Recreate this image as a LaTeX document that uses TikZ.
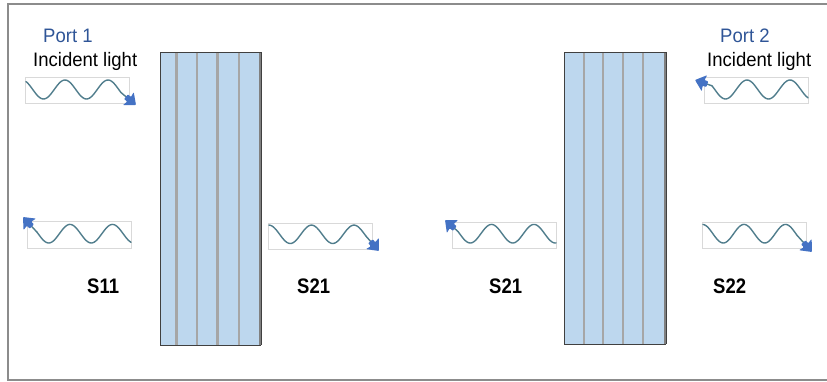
\documentclass[tikz,border=0pt]{standalone}
\usepackage{fontspec}
\setmainfont{Liberation Sans}
\usetikzlibrary{calc}
\definecolor{framegray}{RGB}{140,140,140}
\definecolor{slabfill}{RGB}{189,215,238}
\definecolor{slabedge}{RGB}{64,64,64}
\definecolor{layergray}{RGB}{166,166,166}
\definecolor{rightgray}{RGB}{128,128,128}
\definecolor{wavecol}{RGB}{80,125,140}
\definecolor{tipblue}{RGB}{68,114,196}
\definecolor{portblue}{RGB}{47,85,151}
\definecolor{boxgray}{RGB}{217,217,217}
\begin{document}
\begin{tikzpicture}[x=1pt,y=-1pt,
  wave/.style={draw=wavecol, line width=1.4pt, line cap=round},
  wavebox/.style={draw=boxgray, line width=0.6pt},
  layer/.style={draw=layergray, line width=2.5pt},
  slabline/.style={draw=slabedge, line width=0.9pt},
  porttext/.style={text=portblue, inner sep=0pt, anchor=base west,
    font=\fontsize{19.5}{22}\selectfont},
  inctext/.style={text=black, inner sep=0pt, anchor=base west,
    font=\fontsize{19.5}{22}\selectfont},
  stext/.style={text=black, inner sep=0pt, anchor=base west,
    font=\fontsize{21}{24}\selectfont\bfseries}]
\useasboundingbox (0,0) rectangle (827,381);
% frame
\draw[framegray, line width=2pt] (827,4) -- (8,4) -- (8,380) -- (827,380);

% slab 1
\fill[slabfill] (160,52) rectangle (261,345);
\foreach \xx in {176.5,197,217.5,239} \draw[layer] (\xx,52) -- (\xx,346);
\draw[rightgray, line width=2.5pt] (259.8,52) -- (259.8,345);
\draw[slabline] (261,52) -- (160,52) -- (160,345) -- (261,345);
\draw[slabedge, line width=0.6pt] (261.2,52) -- (261.2,345);

% slab 2
\fill[slabfill] (564,52) rectangle (666,344);
\foreach \xx in {584,603,623,643} \draw[layer] (\xx,52) -- (\xx,345);
\draw[rightgray, line width=2.5pt] (664.8,52) -- (664.8,344);
\draw[slabline] (666,52) -- (564,52) -- (564,344) -- (666,344);
\draw[slabedge, line width=0.6pt] (666.2,52) -- (666.2,344);

% wave boxes
\draw[wavebox] (25,77) rectangle (129,103);
\draw[wavebox] (27,221) rectangle (131,248);
\draw[wavebox] (268,223) rectangle (372,249);
\draw[wavebox] (452,222) rectangle (556,248);
\draw[wavebox] (702,222) rectangle (806,248);
\draw[wavebox] (704,77) rectangle (808,103);

% arrow tips
\coordinate (t1) at (136,105);
\coordinate (t2) at (23,217);
\coordinate (t3) at (379,251);
\coordinate (t4) at (445,220);
\coordinate (t5) at (812,252);
\coordinate (t6) at (695,80);

% waves
\draw[wave] plot[domain=26:121,samples=70,smooth] (\x,{89.5-9.5*cos(360/43*(\x-65))}) coordinate (e1);
\draw[wave] plot[variable=\t,domain=0:94,samples=70,smooth] ({131-\t},{233.7-9.3*cos(360/42.5*(61-\t))}) coordinate (e2);
\draw[wave] plot[domain=269:366,samples=70,smooth] (\x,{234.3-9.2*cos(360/42.5*(\x-354))}) coordinate (e3);
\draw[wave] plot[variable=\t,domain=0:98,samples=70,smooth] ({556-\t},{233.7-9.3*cos(360/42.5*(22-\t))}) coordinate (e4);
\draw[wave] plot[domain=703:797,samples=70,smooth] (\x,{233.7-9.3*cos(360/41.5*(\x-785.5))}) coordinate (e5);
\draw[wave] plot[variable=\t,domain=0:96,samples=70,smooth] ({808-\t},{89.5-9.5*cos(360/43*(18-\t))}) coordinate (e6);

\foreach \i in {1,...,6} {
  \draw[wave, shorten >=10pt] (e\i) -- (t\i);
  \path[fill=tipblue, rounded corners=0.8pt]
    let \p1=($(t\i)-(e\i)$), \n1={atan2(\y1,\x1)} in
    [shift={(t\i)}, rotate=\n1]
    (0,0) -- (-10,8.5) -- (-9,3) -- (-13,3) -- (-13,-3) -- (-9,-3) -- (-10,-8.5) -- cycle;
}

% texts
\node[porttext] (port1) at (43,42) {\scalebox{0.95}[1]{Port 1}};
\node[inctext] (inc1) at (33,66) {\scalebox{0.95}[1]{Incident light}};
\node[porttext] (port2) at (720,42) {\scalebox{0.95}[1]{Port 2}};
\node[inctext] (inc2) at (707,66) {\scalebox{0.95}[1]{Incident light}};
\node[stext] (s11) at (87,293) {\scalebox{0.88}[1]{S11}};
\node[stext] (s21a) at (297,293) {\scalebox{0.88}[1]{S21}};
\node[stext] (s21b) at (489,293) {\scalebox{0.88}[1]{S21}};
\node[stext] (s22) at (713,293) {\scalebox{0.88}[1]{S22}};
\end{tikzpicture}
\end{document}
